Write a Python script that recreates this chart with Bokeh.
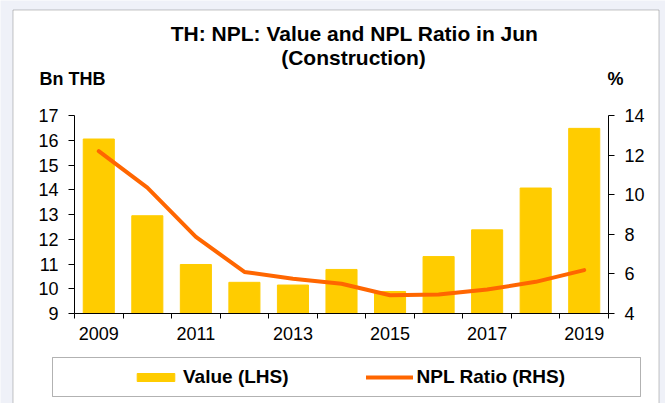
from bokeh.plotting import figure
from bokeh.models import (Range1d, LinearAxis, FixedTicker, Legend, LegendItem,
                          Label, BoxAnnotation)
from bokeh.embed import file_html
from bokeh.resources import INLINE

# ---- data ----
years = [2009, 2010, 2011, 2012, 2013, 2014, 2015, 2016, 2017, 2018, 2019]
npl_value_bn_thb = [16.05, 12.95, 10.98, 10.26, 10.15, 10.78, 9.89, 11.30, 12.38, 14.07, 16.48]
npl_ratio_pct = [12.2, 10.36, 7.87, 6.1, 5.75, 5.5, 4.92, 4.96, 5.21, 5.6, 6.19]
x_tick_years = [2009, 2011, 2013, 2015, 2017, 2019]
left_ticks = [9, 10, 11, 12, 13, 14, 15, 16, 17]
right_ticks = [4, 6, 8, 10, 12, 14]

title_line1 = "TH: NPL: Value and NPL Ratio in Jun"
title_line2 = "(Construction)"
left_unit = "Bn THB"
right_unit = "%"
legend_labels = ["Value (LHS)", "NPL Ratio (RHS)"]

FONT = "Liberation Sans"
BAR_COLOR = "#FFCC00"
LINE_COLOR = "#FF6600"
TICK_FONT_SIZE = "18px"

# ---- geometry (page pixels; the plot frame fills the whole canvas) ----
W, H = 665, 403
FL, FR, FT, FB = 74, 608, 115, 313      # where the axes box sits
X0, X1 = years[0] - 0.5, years[-1] + 0.5
Y0, Y1 = 9, 17
Y20, Y21 = 4, 14


def px2x(px):
    return X0 + (px - FL) * (X1 - X0) / (FR - FL)


def py2y(py, lo=Y0, hi=Y1):
    return lo + (FB - py) * (hi - lo) / (FB - FT)


p = figure(width=W, height=H, output_backend="svg", toolbar_location=None,
           x_range=Range1d(px2x(0), px2x(W)),
           y_range=Range1d(py2y(H), py2y(0)),
           min_border=0)
p.extra_y_ranges = {"y2": Range1d(py2y(H, Y20, Y21), py2y(0, Y20, Y21))}

p.border_fill_color = "#eff1f8"
p.background_fill_color = "#eff1f8"
p.outline_line_color = None
p.xgrid.visible = False
p.ygrid.visible = False

# chart box (white panel with thin dark border)
p.add_layout(BoxAnnotation(left=px2x(12.5), right=px2x(658.5), top=py2y(9.5), bottom=py2y(430),
                           fill_color="white", fill_alpha=1.0,
                           line_color="#3a3a3a", line_width=1, level="underlay"))

bars = p.vbar(x=years, top=npl_value_bn_thb, bottom=Y0, width=0.64,
              fill_color=BAR_COLOR, line_color=BAR_COLOR)
line = p.line(years, npl_ratio_pct, y_range_name="y2", line_color=LINE_COLOR,
              line_width=4, line_cap="round", line_join="round")

# x axis
xa = p.xaxis[0]
xa.fixed_location = Y0
xa.bounds = (X0, X1)
xa.ticker = FixedTicker(ticks=x_tick_years,
                        minor_ticks=[y - 0.5 for y in years] + [years[-1] + 0.5])
xa.major_tick_out = 0
xa.major_tick_in = 0
xa.minor_tick_out = 5
xa.minor_tick_in = 0
xa.minor_tick_line_color = "black"
xa.axis_line_color = "black"
xa.major_label_standoff = 8
xa.major_label_text_font = FONT
xa.major_label_text_font_size = TICK_FONT_SIZE
xa.major_label_text_color = "black"

# left axis
ya = p.yaxis[0]
ya.fixed_location = X0
ya.bounds = (Y0, Y1)
ya.ticker = FixedTicker(ticks=left_ticks)
ya.major_tick_out = 6
ya.major_tick_in = 0
ya.minor_tick_line_color = None
ya.axis_line_color = "black"
ya.major_tick_line_color = "black"
ya.major_label_standoff = 10
ya.major_label_text_font = FONT
ya.major_label_text_font_size = TICK_FONT_SIZE
ya.major_label_text_color = "black"

# right axis
ra = LinearAxis(y_range_name="y2", ticker=FixedTicker(ticks=right_ticks))
ra.fixed_location = X1
ra.bounds = (Y20, Y21)
ra.major_tick_out = 6
ra.major_tick_in = 0
ra.minor_tick_line_color = None
ra.axis_line_color = "black"
ra.major_tick_line_color = "black"
ra.major_label_standoff = 10
ra.major_label_text_font = FONT
ra.major_label_text_font_size = TICK_FONT_SIZE
ra.major_label_text_color = "black"
p.add_layout(ra, "right")

# titles and unit labels
p.add_layout(Label(x=px2x(354), y=py2y(33), text=title_line1, text_align="center",
                   text_baseline="middle", text_font=FONT, text_font_style="bold",
                   text_font_size="21px", text_color="black"))
p.add_layout(Label(x=px2x(353), y=py2y(56.5), text=title_line2, text_align="center",
                   text_baseline="middle", text_font=FONT, text_font_style="bold",
                   text_font_size="21px", text_color="black"))
p.add_layout(Label(x=px2x(39), y=py2y(78.5), text=left_unit, text_align="left",
                   text_baseline="middle", text_font=FONT, text_font_style="bold",
                   text_font_size="18px", text_color="black"))
p.add_layout(Label(x=px2x(607), y=py2y(78.5), text=right_unit, text_align="left",
                   text_baseline="middle", text_font=FONT, text_font_style="bold",
                   text_font_size="18px", text_color="black"))

# legend
legend = Legend(items=[LegendItem(label=legend_labels[0], renderers=[bars]),
                       LegendItem(label=legend_labels[1], renderers=[line])],
                orientation="horizontal", location=(124, H - 395.6),
                padding=8, margin=0, spacing=77, glyph_width=47, glyph_height=10,
                label_standoff=4, border_line_alpha=0, background_fill_alpha=0,
                label_text_font=FONT, label_text_font_style="bold",
                label_text_font_size="19px", label_text_color="black")
p.add_layout(legend)
p.add_layout(BoxAnnotation(left=px2x(52), right=px2x(640), top=py2y(357), bottom=py2y(396),
                           fill_alpha=0, line_color="black", line_width=1))

open("out.html", "w").write(file_html(p, INLINE))
